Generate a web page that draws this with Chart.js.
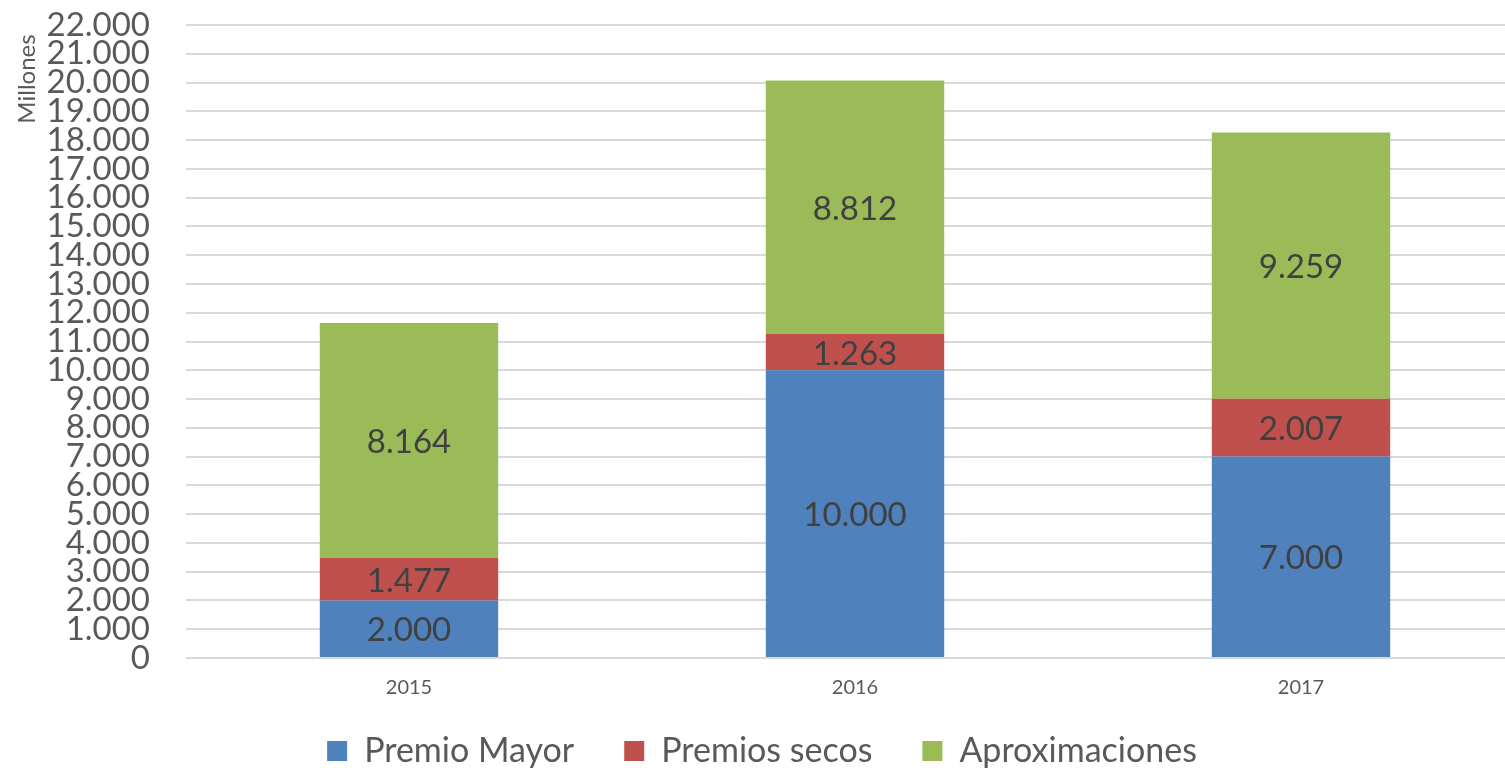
<!DOCTYPE html>
<html>
<head>
<meta charset="utf-8">
<script src="https://cdn.jsdelivr.net/npm/chart.js@4.4.1/dist/chart.umd.min.js"></script>
<style>
    html, body { margin: 0; padding: 0; background: #fff; overflow: hidden; }
    #wrap { position: absolute; left: 0; top: 0; width: 1524px; height: 768px; }
</style>
</head>
<body>
<div id="wrap"><canvas id="chart"></canvas></div>
<script>
const years = ['2015', '2016', '2017'];
const premioMayor = [2000, 10000, 7000];
const premiosSecos = [1477, 1263, 2007];
const aproximaciones = [8164, 8812, 9259];
const yMax = 22000;
const yStep = 1000;

const fmt = v => v.toLocaleString('de-DE');

// labels centred inside each segment
const barLabels = {
    id: 'barLabels',
    afterDatasetsDraw(chart) {
        const ctx = chart.ctx;
        ctx.save();
        ctx.font = '33px Lato';
        ctx.fillStyle = '#404040';
        ctx.textAlign = 'center';
        ctx.textBaseline = 'middle';
        chart.data.datasets.forEach((ds, i) => {
            chart.getDatasetMeta(i).data.forEach((bar, j) => {
                const mid = (bar.y + bar.base) / 2;
                ctx.fillText(fmt(ds.data[j]), bar.x, mid + 2);
            });
        });
        ctx.restore();
    }
};

// "Millones" sits at the top of the axis, not centred
const unitTitle = {
    id: 'unitTitle',
    afterDraw(chart) {
        const ctx = chart.ctx;
        ctx.save();
        ctx.translate(27, 79);
        ctx.rotate(-Math.PI / 2);
        ctx.font = '24px Lato';
        ctx.fillStyle = '#595959';
        ctx.textAlign = 'center';
        ctx.textBaseline = 'middle';
        ctx.fillText('Millones', 0, 0);
        ctx.restore();
    }
};

// fixed legend height so the plot bottom lands where the original has it,
// then push the legend row down a little
const legendPlace = {
    id: 'legendPlace',
    beforeLayout(chart) {
        const lg = chart.legend;
        if (lg && !lg._fixedFit) {
            const orig = lg.fit;
            lg.fit = function () {
                orig.call(this);
                this.height = 62;
            };
            lg._fixedFit = true;
        }
    },
    afterLayout(chart) {
        const lg = chart.legend;
        if (lg) {
            lg.top = 684;
            lg.bottom = chart.height;
            lg.height = lg.bottom - lg.top;
        }
    }
};

new Chart(document.getElementById('chart'), {
    type: 'bar',
    data: {
        labels: years,
        datasets: [
            { label: 'Premio Mayor', data: premioMayor, backgroundColor: '#4F81BD' },
            { label: 'Premios secos', data: premiosSecos, backgroundColor: '#C0504D' },
            { label: 'Aproximaciones', data: aproximaciones, backgroundColor: '#9BBB59' }
        ]
    },
    options: {
        responsive: true,
        maintainAspectRatio: false,
        animation: false,
        devicePixelRatio: 1,
        layout: { padding: 0 },
        datasets: {
            bar: { barPercentage: 0.4, categoryPercentage: 1 }
        },
        scales: {
            x: {
                stacked: true,
                grid: { display: false, drawTicks: false },
                border: { display: false },
                ticks: { color: '#595959', font: { family: 'Lato', size: 20 }, padding: 18 },
                afterFit(scale) { scale.height = 48; }
            },
            y: {
                stacked: true,
                min: 0,
                max: yMax,
                grid: { color: '#d9d9d9', lineWidth: 2, drawTicks: false },
                border: { display: false },
                ticks: {
                    stepSize: yStep,
                    autoSkip: false,
                    color: '#595959',
                    font: { family: 'Lato', size: 33 },
                    padding: 36,
                    callback: v => fmt(v)
                },
                afterFit(scale) {
                    scale.width = 186;
                    scale.paddingTop = 25;
                    scale.paddingBottom = 0;
                }
            }
        },
        plugins: {
            legend: {
                position: 'bottom',
                labels: {
                    color: '#595959',
                    font: { family: 'Lato', size: 34 },
                    boxWidth: 20,
                    boxHeight: 20,
                    padding: 50
                }
            },
            tooltip: { enabled: false }
        }
    },
    plugins: [barLabels, unitTitle, legendPlace]
});
</script>
</body>
</html>
